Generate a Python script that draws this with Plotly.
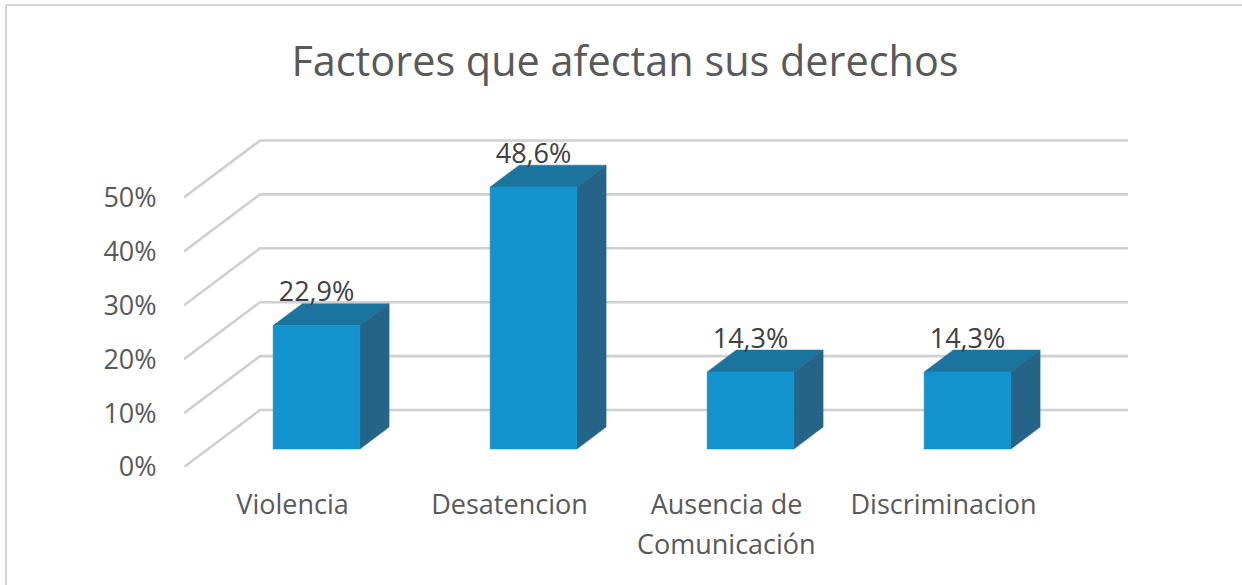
import plotly.graph_objects as go

title = "Factores que afectan sus derechos"
categories = ["Violencia", "Desatencion", "Ausencia de", "Discriminacion"]
category_second_line = [None, None, "Comunicación", None]
values = [22.9, 48.6, 14.3, 14.3]
y_ticks = [0, 10, 20, 30, 40, 50]
y_labels = ["0%", "10%", "20%", "30%", "40%", "50%"]

FONT = "Open Sans"
GRID = "#D0D0D0"
FRONT, TOP, SIDE = "#1293CD", "#1A749E", "#266487"
W, H = 1242, 585
L, R, T, B = 184, 1128, 130, 467
PX_X = 217.0   # px per category
PX_Y = 5.39    # px per percent
DX, DY = 76 / PX_X, 57 / PX_Y  # oblique depth offset, in data units
D0, D1 = 0.316, 0.70           # bar front/back position within the depth
HALF = 0.2                     # half bar width


def proj(x, y, d):
    return x + DX * d, y + DY * d


def face(points, color):
    xs, ys = zip(*[proj(*p) for p in points + points[:1]])
    return go.Scatter(x=xs, y=ys, mode="lines", fill="toself", fillcolor=color,
                      line=dict(color=color, width=0.5), hoverinfo="skip", showlegend=False)


fig = go.Figure()
x_left = -0.5
x_right = len(categories) - 0.5
for t in y_ticks:
    xs, ys = zip(proj(x_left, t, 0), proj(x_left, t, 1), proj(x_right, t, 1))
    fig.add_trace(go.Scatter(x=xs, y=ys, mode="lines", line=dict(color=GRID, width=2.6),
                             cliponaxis=False, hoverinfo="skip", showlegend=False))

lx, ly, lt = [], [], []
for i, v in enumerate(values):
    a, b = i - HALF, i + HALF
    fig.add_trace(face([(a, v, D0), (b, v, D0), (b, v, D1), (a, v, D1)], TOP))
    fig.add_trace(face([(b, 0, D0), (b, 0, D1), (b, v, D1), (b, v, D0)], SIDE))
    fig.add_trace(face([(a, 0, D0), (b, 0, D0), (b, v, D0), (a, v, D0)], FRONT))
    px_, py_ = proj(i, v, D1)
    lx.append(proj(i, 0, D0)[0])
    ly.append(py_ + 1.7)
    lt.append(f"{v:.1f}%".replace(".", ","))

fig.add_trace(go.Scatter(x=lx, y=ly, text=lt, mode="text", textposition="middle center",
                         textfont=dict(family=FONT, size=27, color="#404040"),
                         cliponaxis=False, hoverinfo="skip", showlegend=False))

annotations = [
    dict(x=i, xref="x", y=(B - 543) / (B - T), yref="paper", text=s, showarrow=False,
         xanchor="center", yanchor="middle",
         font=dict(family=FONT, size=27, color="#595959"))
    for i, s in enumerate(category_second_line) if s
]

fig.update_layout(
    width=W, height=H, autosize=False,
    margin=dict(l=L, r=W - R, t=T, b=H - B, pad=0),
    paper_bgcolor="white", plot_bgcolor="white",
    title=dict(text=title, x=625 / W, xanchor="center", xref="container", y=1 - 62 / H,
               yanchor="middle", yref="container",
               font=dict(family=FONT, size=41.4, color="#595959")),
    xaxis=dict(range=[x_left, x_left + (R - L) / PX_X], tickmode="array",
               tickvals=list(range(len(categories))), ticktext=categories,
               showgrid=False, zeroline=False, showline=False,
               ticks="outside", ticklen=14, tickcolor="rgba(0,0,0,0)",
               tickfont=dict(family=FONT, size=27, color="#595959")),
    yaxis=dict(range=[0, (B - T) / PX_Y], tickmode="array", tickvals=y_ticks, ticktext=y_labels,
               showgrid=False, zeroline=False, showline=False,
               ticks="outside", ticklen=21, tickcolor="rgba(0,0,0,0)",
               tickfont=dict(family=FONT, size=27, color="#595959")),
    annotations=annotations,
    shapes=[
        dict(type="line", xref="paper", yref="paper", x0=(6 - L) / (R - L), x1=(W - L) / (R - L),
             y0=(B - 5) / (B - T), y1=(B - 5) / (B - T), line=dict(color="#D4D4D4", width=2)),
        dict(type="line", xref="paper", yref="paper", x0=(6 - L) / (R - L), x1=(6 - L) / (R - L),
             y0=(B - 5) / (B - T), y1=(B - H) / (B - T), line=dict(color="#D4D4D4", width=2)),
    ],
)
fig.write_html("out.html", config={"displayModeBar": False},
               post_script="document.body.style.margin='0';")
